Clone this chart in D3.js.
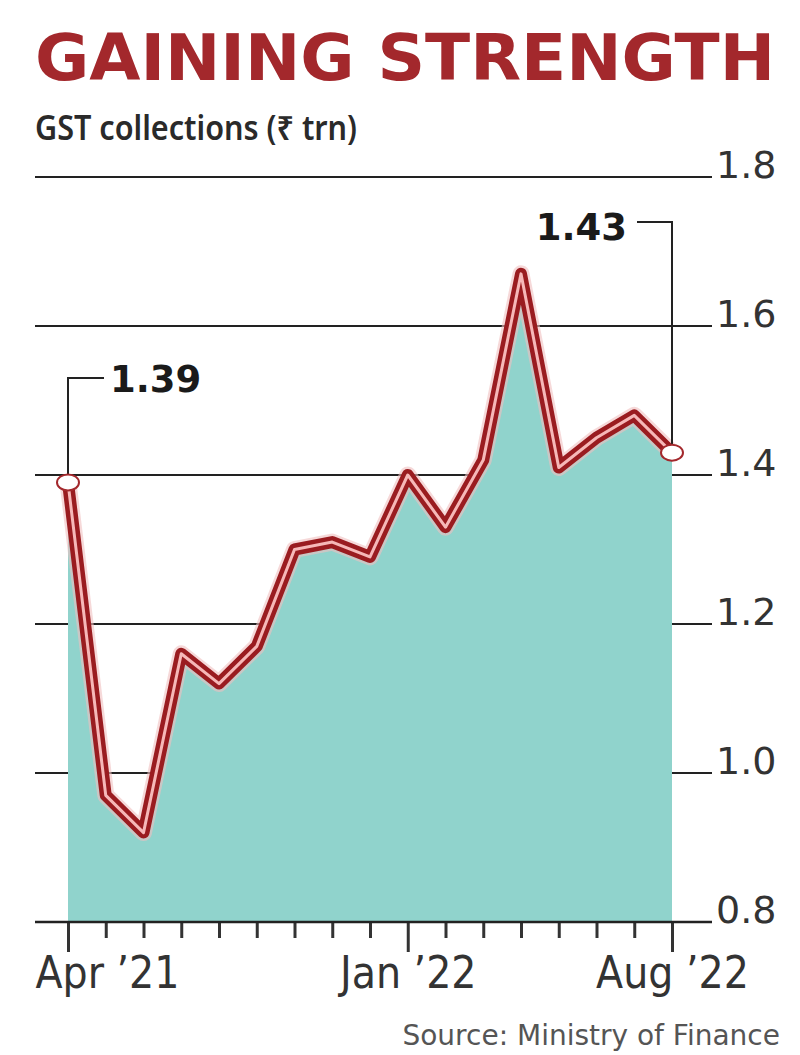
<!DOCTYPE html>
<meta charset="utf-8">
<script src="https://d3js.org/d3.v7.min.js"></script>
<style>
  body { margin: 0; background: #fff; }
</style>
<div id="chart"></div>
<script>

// data
var months = ["Apr '21","May '21","Jun '21","Jul '21","Aug '21","Sep '21","Oct '21","Nov '21","Dec '21",
              "Jan '22","Feb '22","Mar '22","Apr '22","May '22","Jun '22","Jul '22","Aug '22"]
var gst = [1.39, 0.97, 0.92, 1.16, 1.12, 1.17, 1.30, 1.31, 1.29, 1.40, 1.33, 1.42, 1.67, 1.41, 1.45, 1.48, 1.43]
var yTicks = [0.8, 1.0, 1.2, 1.4, 1.6, 1.8]
var labelledMonths = ["Apr '21", "Jan '22", "Aug '22"]

var W = 800, H = 1055

var svg = d3.select("#chart").append("svg")
  .attr("width", W)
  .attr("height", H)

var x = d3.scalePoint().domain(months).range([68, 672])
var y = d3.scaleLinear().domain([0.8, 1.8]).range([922, 177])

// title + subtitle
svg.append("text")
  .attr("x", 35).attr("y", 80)
  .attr("textLength", 740).attr("lengthAdjust", "spacingAndGlyphs")
  .style("font-family", "'DejaVu Sans Condensed', 'Liberation Sans Narrow', sans-serif")
  .style("font-weight", "bold")
  .style("font-size", "64px")
  .style("fill", "#a3282c")
  .text("GAINING STRENGTH")

svg.append("text")
  .attr("x", 35).attr("y", 140)
  .attr("textLength", 322).attr("lengthAdjust", "spacingAndGlyphs")
  .style("font-family", "'Noto Sans', sans-serif")
  .style("font-weight", 600)
  .style("font-size", "34px")
  .style("fill", "#2a2a2a")
  .text("GST collections (₹ trn)")

// gridlines
svg.append("g").selectAll("line")
  .data(yTicks)
  .enter().append("line")
    .attr("x1", 35).attr("x2", 712)
    .attr("y1", function(d){ return y(d) })
    .attr("y2", function(d){ return y(d) })
    .style("stroke", "#222")
    .style("stroke-width", 2)

// y labels on the right, sitting on the lines
var yAxis = svg.append("g")
  .attr("transform", "translate(712,0)")
  .call(d3.axisRight(y).tickValues(yTicks).tickSize(0).tickFormat(d3.format(".1f")))
yAxis.select(".domain").remove()
yAxis.selectAll("text")
  .attr("x", 4).attr("dy", 0)
  .style("font-family", "'DejaVu Sans', sans-serif")
  .style("font-size", "38px")
  .style("fill", "#333")

// area
var area = d3.area()
  .x(function(d, i){ return x(months[i]) })
  .y0(y(0.8))
  .y1(function(d){ return y(d) })

svg.append("path")
  .datum(gst)
  .attr("d", area)
  .style("fill", "#90d3cc")

// double line: dark red with a light core
var line = d3.line()
  .x(function(d, i){ return x(months[i]) })
  .y(function(d){ return y(d) })

svg.append("path")
  .datum(gst)
  .attr("d", line)
  .style("fill", "none")
  .style("stroke", "#f0c0c0")
  .style("stroke-width", 17)
  .style("stroke-linejoin", "round")
  .style("opacity", 0.6)

svg.append("path")
  .datum(gst)
  .attr("d", line)
  .style("fill", "none")
  .style("stroke", "#9a1c20")
  .style("stroke-width", 12)
  .style("stroke-linejoin", "round")

svg.append("path")
  .datum(gst)
  .attr("d", line)
  .style("fill", "none")
  .style("stroke", "#f6b8b8")
  .style("stroke-width", 3)
  .style("stroke-linejoin", "round")

// x axis
var xAxis = svg.append("g")
  .attr("transform", "translate(0," + y(0.8) + ")")
  .call(d3.axisBottom(x).tickSize(16).tickFormat(function(d){
    return labelledMonths.indexOf(d) >= 0 ? d.replace("'", "\u2019") : ""
  }))
xAxis.select(".domain").remove()
xAxis.selectAll(".tick line")
  .style("stroke", "#333")
  .style("stroke-width", 3)
  .attr("y2", function(d){ return labelledMonths.indexOf(d) >= 0 ? 30 : 16 })
xAxis.selectAll(".tick text")
  .attr("y", 66).attr("dy", 0)
  .style("font-family", "'DejaVu Sans Condensed', 'DejaVu Sans', sans-serif")
  .style("font-size", "44px")
  .style("fill", "#333")
xAxis.selectAll(".tick text")
  .filter(function(d){ return d === months[0] })
  .attr("text-anchor", "start")
  .attr("x", -33)

svg.append("line")
  .attr("x1", 35).attr("x2", 712)
  .attr("y1", y(0.8)).attr("y2", y(0.8))
  .style("stroke", "#222")
  .style("stroke-width", 2.5)

// annotations for first and last month
var first = 0, last = gst.length - 1

svg.append("path")
  .attr("d", "M" + x(months[first]) + "," + (y(gst[first]) - 8) + "V378H104")
  .style("fill", "none").style("stroke", "#222").style("stroke-width", 2)

svg.append("path")
  .attr("d", "M" + x(months[last]) + "," + (y(gst[last]) - 8) + "V222H637")
  .style("fill", "none").style("stroke", "#222").style("stroke-width", 2)

svg.append("text")
  .attr("x", 110).attr("y", 392)
  .style("font-family", "'DejaVu Sans', sans-serif")
  .style("font-weight", "bold")
  .style("font-size", "37px")
  .style("fill", "#1a1a1a")
  .text(d3.format(".2f")(gst[first]))

svg.append("text")
  .attr("x", 627).attr("y", 240)
  .attr("text-anchor", "end")
  .style("font-family", "'DejaVu Sans', sans-serif")
  .style("font-weight", "bold")
  .style("font-size", "37px")
  .style("fill", "#1a1a1a")
  .text(d3.format(".2f")(gst[last]))

svg.selectAll("ellipse.end")
  .data([first, last])
  .enter().append("ellipse")
    .attr("class", "end")
    .attr("cx", function(i){ return x(months[i]) })
    .attr("cy", function(i){ return y(gst[i]) })
    .attr("rx", 11).attr("ry", 8)
    .style("fill", "#fff")
    .style("stroke", "#a3282c")
    .style("stroke-width", 2)

// source
svg.append("text")
  .attr("x", 780).attr("y", 1045)
  .attr("text-anchor", "end")
  .style("font-family", "'DejaVu Sans', sans-serif")
  .style("font-size", "28px")
  .style("fill", "#555")
  .text("Source: Ministry of Finance")

</script>
